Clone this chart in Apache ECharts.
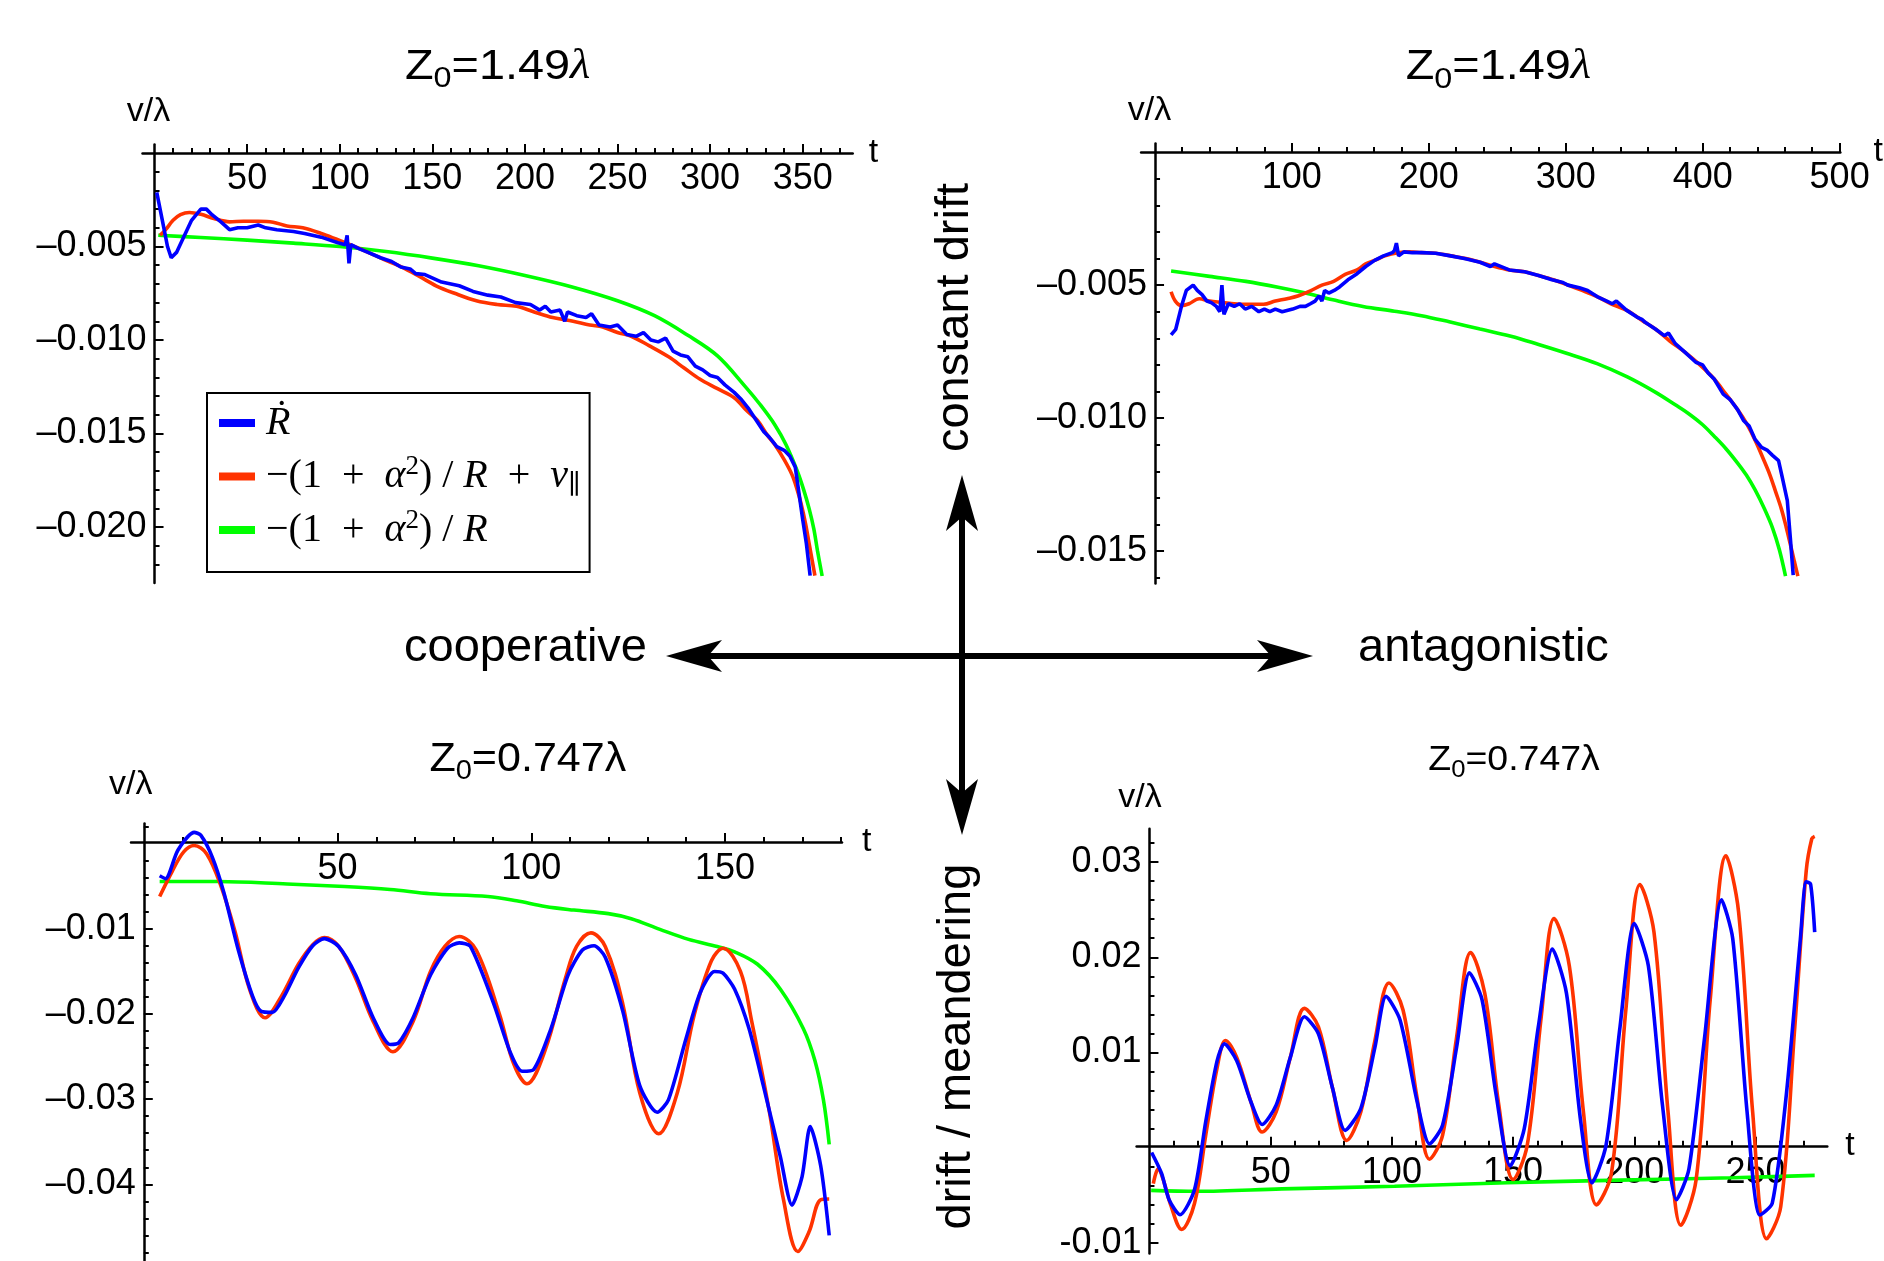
<!DOCTYPE html>
<html>
<head>
<meta charset="utf-8">
<title>drift velocity panels</title>
<script src="https://cdn.jsdelivr.net/npm/echarts@6/dist/echarts.min.js"></script>
<style>
  html, body { margin: 0; padding: 0; background: #fff; }
  #chart { width: 1884px; height: 1261px; }
</style>
</head>
<body>
<div id="chart"></div>
<script>
const SANS = '"Liberation Sans", Arial, Helvetica, sans-serif';
const SERIF = '"Liberation Serif", "DejaVu Serif", "Times New Roman", serif';
const BLUE = '#0000ff', RED = '#ff3300', GREEN = '#00ff00';
const NAME_B = 'Ṙ', NAME_R = '−(1+α²)/R+v∥', NAME_G = '−(1+α²)/R';

// ---- tick values ----
const p1XTicks = [50, 100, 150, 200, 250, 300, 350];
const p1YTicks = [-0.005, -0.010, -0.015, -0.020];
const p2XTicks = [100, 200, 300, 400, 500];
const p2YTicks = [-0.005, -0.010, -0.015];
const p3XTicks = [50, 100, 150];
const p3YTicks = [-0.01, -0.02, -0.03, -0.04];
const p4XTicks = [50, 100, 150, 200, 250];
const p4YTicks = [-0.01, 0.01, 0.02, 0.03];

// ---- panel 1 (top left), [t, v] ----
const p1Blue = [[1.2,-0.0021],[4,-0.0035],[7,-0.0050],[9,-0.0056],[12,-0.0053],[15.7,-0.0045],[20,-0.0036],[25,-0.0030],[28,-0.0030],[31,-0.0033],[36,-0.0037],[40.5,-0.0041],[45,-0.0040],[50,-0.0040],[56,-0.00385],[60,-0.0040],[66,-0.0041],[75,-0.0042],[81,-0.0043],[90,-0.0045],[99,-0.0048],[103,-0.0049],[104,-0.0044],[105,-0.0059],[106,-0.0049],[110,-0.0051],[115,-0.0053],[122,-0.0056],[128,-0.0058],[133,-0.0061],[138,-0.0062],[141,-0.00645],[146,-0.0065],[155,-0.0069],[164.5,-0.0071],[172,-0.0074],[180,-0.0076],[187,-0.0077],[195,-0.0080],[203,-0.0081],[208,-0.0084],[211,-0.0082],[214,-0.0085],[219,-0.0084],[221.5,-0.0090],[223,-0.0085],[228,-0.0087],[233,-0.0088],[236,-0.0086],[240,-0.0092],[246,-0.0093],[250,-0.0092],[255,-0.0097],[260,-0.0098],[264,-0.0096],[268,-0.0100],[272,-0.0101],[276,-0.0099],[280,-0.0106],[284,-0.0108],[288,-0.0109],[292,-0.0114],[296,-0.0116],[300,-0.0119],[304,-0.0120],[308,-0.0124],[313,-0.0128],[317,-0.0132],[321,-0.0137],[325,-0.0143],[329,-0.0149],[332,-0.0152],[336,-0.0157],[340,-0.0159],[343,-0.0162],[346,-0.0168],[348,-0.0182],[350,-0.0196],[352,-0.0209],[354,-0.0226]];
const p1Red = [[3,-0.0044],[6,-0.0041],[10,-0.0036],[14,-0.0033],[18.8,-0.00318],[25,-0.00328],[32,-0.0035],[40.5,-0.00368],[48,-0.00365],[56,-0.00365],[64,-0.0037],[71.5,-0.0039],[80,-0.0040],[90,-0.0043],[98,-0.0046],[105.6,-0.0049],[115,-0.0053],[124,-0.0057],[133.5,-0.0061],[143,-0.0066],[152,-0.0071],[162,-0.0075],[173.8,-0.0079],[185,-0.0081],[195.5,-0.0082],[205,-0.0085],[215,-0.0088],[226,-0.0090],[235,-0.0092],[242,-0.0093],[250,-0.0096],[257.4,-0.0098],[267,-0.0103],[277.6,-0.0109],[286,-0.0115],[294.6,-0.0121],[304,-0.0126],[313.2,-0.0131],[320,-0.0138],[325.6,-0.0143],[331,-0.0151],[335,-0.0156],[340,-0.0164],[344.2,-0.0172],[347,-0.0180],[349,-0.0187],[351.5,-0.0198],[353.5,-0.0209],[355.5,-0.0220],[356.6,-0.0226]];
const p1Green = [[2,-0.00440],[25,-0.00452],[50,-0.00466],[75,-0.00482],[100,-0.00500],[125,-0.00527],[150,-0.00562],[175,-0.00603],[200,-0.00655],[225,-0.00715],[250,-0.00790],[270,-0.00870],[288,-0.00975],[304,-0.01085],[319,-0.01249],[327,-0.01345],[335,-0.01454],[341,-0.01560],[347,-0.01699],[350.5,-0.01800],[353.5,-0.01903],[356,-0.02010],[358,-0.02128],[360.5,-0.02262]];

// ---- panel 2 (top right) ----
const p2Blue = [[11.9,-0.00687],[15.3,-0.00666],[19.5,-0.00579],[23,-0.0052],[28,-0.0050],[31,-0.0052],[34.5,-0.00536],[38,-0.0056],[41,-0.00565],[45,-0.0058],[47.5,-0.0060],[49,-0.0050],[50.5,-0.0061],[53.7,-0.0057],[58,-0.0058],[62,-0.0057],[66,-0.0059],[70.8,-0.0058],[76,-0.0060],[80,-0.0059],[84,-0.0060],[88,-0.0059],[93,-0.0060],[100.7,-0.0059],[106,-0.0058],[110,-0.0058],[113.6,-0.0057],[117,-0.0056],[120,-0.0054],[122,-0.0056],[124,-0.0052],[127,-0.0053],[131,-0.0052],[134.9,-0.00507],[141,-0.0048],[147.7,-0.00457],[154,-0.0043],[160.5,-0.00407],[167,-0.0039],[173.4,-0.00378],[175,-0.0037],[176.4,-0.00342],[178,-0.0039],[181.9,-0.00375],[188,-0.00378],[194.7,-0.00378],[205,-0.0038],[216,-0.0039],[226,-0.0040],[237.5,-0.00414],[245,-0.0043],[248,-0.0042],[258.8,-0.00443],[270,-0.0045],[280.2,-0.00464],[290,-0.0048],[298,-0.0049],[301.6,-0.0050],[310,-0.0051],[316,-0.0052],[322.9,-0.00543],[330,-0.0056],[334,-0.0057],[337,-0.0056],[344.3,-0.00594],[352,-0.0062],[356,-0.0063],[358,-0.0064],[365.7,-0.00666],[372,-0.0069],[375,-0.0068],[380,-0.0072],[387,-0.00752],[395,-0.0079],[400,-0.0080],[404,-0.0083],[408.4,-0.00853],[415,-0.0091],[420,-0.0093],[425.5,-0.00968],[430,-0.0101],[434,-0.0103],[438.3,-0.0108],[443,-0.0111],[447,-0.0112],[451,-0.0114],[455.4,-0.0116],[458,-0.0122],[461.8,-0.0131],[464,-0.0145],[466.1,-0.0159]];
const p2Red = [[11.9,-0.00525],[15,-0.0056],[19.5,-0.00577],[25,-0.0057],[32.4,-0.00551],[40,-0.0056],[49.5,-0.00565],[58,-0.0057],[66.5,-0.00572],[79.4,-0.00572],[88,-0.0056],[96.5,-0.00551],[105,-0.0054],[113.6,-0.00522],[122,-0.0050],[130.6,-0.00486],[139,-0.0046],[147.7,-0.00443],[154,-0.0042],[160.5,-0.00407],[168,-0.0039],[177.6,-0.00378],[186,-0.00375],[194.7,-0.00378],[205,-0.0038],[216.1,-0.0039],[227,-0.0040],[237.5,-0.00414],[248,-0.0043],[258.8,-0.00443],[270,-0.0045],[280.2,-0.00464],[291,-0.0048],[301.6,-0.0050],[312,-0.0052],[322.9,-0.00543],[333,-0.0057],[344.3,-0.00594],[355,-0.0063],[365.7,-0.00666],[376,-0.0071],[387,-0.00752],[398,-0.0080],[408.4,-0.00853],[417,-0.0091],[425.5,-0.00968],[432,-0.0102],[438.3,-0.01083],[444,-0.0115],[449,-0.01212],[453.5,-0.0128],[457.5,-0.01342],[461,-0.0141],[463.9,-0.01472],[467,-0.0154],[469.5,-0.01594]];
const p2Green = [[11.9,-0.00447],[40,-0.00467],[66.5,-0.00486],[90,-0.00508],[109.3,-0.00529],[130,-0.00555],[152,-0.0058],[175,-0.00598],[194.7,-0.00615],[215,-0.00638],[237.5,-0.00665],[260,-0.00692],[280.2,-0.00723],[300,-0.00755],[322.9,-0.00795],[345,-0.00845],[365.7,-0.00903],[380,-0.0095],[391.3,-0.00989],[400,-0.01025],[408.4,-0.01068],[417,-0.01115],[425.5,-0.01169],[432,-0.01215],[438.3,-0.0127],[445,-0.0134],[451.1,-0.01414],[456,-0.01495],[460.5,-0.01594]];

// ---- panel 3 (bottom left) ----
const p3Blue = [[4.1,-0.0038],[5.6,-0.00414],[8.8,-0.0008],[13,0.0013],[14.7,0.00097],[17.7,-0.00163],[20.7,-0.00582],[24.4,-0.01251],[28.1,-0.01795],[30.3,-0.01971],[33.2,-0.01983],[36.2,-0.01795],[39.9,-0.0146],[43.6,-0.012],[46.6,-0.01117],[50.3,-0.01209],[54.7,-0.01544],[59.2,-0.02046],[63.6,-0.0236],[65.8,-0.02339],[69.5,-0.02046],[74,-0.01544],[78.4,-0.0123],[81.4,-0.01167],[84.3,-0.01209],[90.3,-0.01879],[94.7,-0.02465],[97.7,-0.02674],[100.6,-0.02653],[105.1,-0.02172],[109.5,-0.01544],[113.2,-0.01251],[116.2,-0.012],[119.1,-0.01335],[123.6,-0.01963],[128,-0.02842],[132.5,-0.03155],[135.4,-0.03009],[139.9,-0.02297],[143.6,-0.01753],[147.3,-0.01502],[149.5,-0.01523],[152.5,-0.01711],[156.2,-0.02172],[159.9,-0.02842],[164.3,-0.03679],[167.3,-0.04244],[169.9,-0.03909],[172,-0.03323],[174.7,-0.03783],[176.9,-0.04599]];
const p3Red = [[4.1,-0.00624],[7.3,-0.0033],[10.3,-0.0010],[13,-0.00025],[16.2,-0.00121],[19.9,-0.00498],[23.6,-0.01042],[27.3,-0.01711],[31.3,-0.02046],[35.5,-0.01795],[39.9,-0.01418],[43.6,-0.01188],[46.6,-0.01105],[50.3,-0.01209],[54.7,-0.01586],[59.2,-0.02088],[64.3,-0.02444],[69.5,-0.02088],[74,-0.01502],[77.7,-0.01209],[81.4,-0.01092],[85.8,-0.01251],[91.8,-0.02004],[95.5,-0.0259],[98.9,-0.0282],[103.6,-0.02423],[108.8,-0.01586],[111.7,-0.01209],[115.4,-0.0105],[119.1,-0.01209],[123.6,-0.01879],[128,-0.02925],[132.9,-0.03406],[137.7,-0.02925],[142.1,-0.02004],[146.5,-0.01376],[149.5,-0.0123],[154,-0.01502],[156.9,-0.02088],[161.4,-0.03134],[165.1,-0.04181],[168.8,-0.04788],[171.7,-0.04557],[174.7,-0.04181],[176.9,-0.04172]];
const p3Green = [[4.1,-0.00447],[19.2,-0.00447],[37,-0.00477],[51.8,-0.00506],[63.6,-0.0054],[74,-0.0059],[88.8,-0.00623],[96.2,-0.00673],[103.6,-0.0074],[111,-0.00782],[119.9,-0.00824],[125.8,-0.00883],[133.2,-0.01008],[140.6,-0.01126],[148,-0.01209],[152.5,-0.01272],[158.4,-0.01418],[164.3,-0.01711],[170.2,-0.02171],[173.2,-0.02548],[175.4,-0.03008],[176.9,-0.03531]];

// ---- panel 4 (bottom right) ----
const p4Blue = [[0.9,-0.0005],[5,-0.0027],[8.1,-0.00546],[12.6,-0.00703],[18.6,-0.00439],[23.2,0.00272],[27.9,0.00913],[30.9,0.01091],[36,0.00913],[41.8,0.00486],[46.5,0.00244],[52.3,0.0045],[58.1,0.00948],[63.9,0.01375],[69.7,0.01197],[75.5,0.00628],[80.7,0.00183],[87.2,0.00415],[93,0.01055],[97.6,0.01589],[103.4,0.0134],[110.4,0.00486],[115.5,0.00041],[120.9,0.00236],[126.7,0.01055],[132,0.01838],[137.2,0.01553],[143,0.00557],[148.8,-0.0019],[154.6,0.00201],[160.4,0.01269],[166.2,0.02087],[172,0.01624],[177.9,0.00272],[182.5,-0.00368],[188.3,0.00023],[194.1,0.01269],[200,0.02354],[205.8,0.01909],[211.6,0.0045],[217.4,-0.00546],[222.5,-0.00226],[229,0.01161],[236,0.02603],[240.6,0.02194],[246.5,0.00379],[251.8,-0.00706],[256.9,-0.00582],[262.7,0.00557],[268.5,0.02194],[270.9,0.02792],[272.7,0.0277],[274.4,0.02265]];
const p4Red = [[1.6,-0.00376],[3.6,-0.0022],[6,-0.0036],[8.5,-0.0058],[13.3,-0.00858],[18.6,-0.00582],[23.2,0.0013],[27.9,0.0084],[31.4,0.01126],[36,0.00948],[41.8,0.00486],[46.5,0.00165],[52.3,0.00379],[58.1,0.00948],[63.9,0.01464],[69.7,0.01269],[75.5,0.00628],[81.4,0.00077],[87.2,0.00379],[93,0.01126],[98.8,0.0173],[104.6,0.01446],[110.4,0.00521],[115.5,-0.0012],[120.9,0.0013],[126.7,0.01161],[132.5,0.0205],[138.3,0.01623],[144.1,0.0045],[150,-0.00333],[155.8,0.00023],[161.6,0.01375],[166.9,0.02407],[173.2,0.01909],[179,0.00379],[184.4,-0.006],[190.6,-0.00262],[196.5,0.01446],[202.3,0.02763],[208.1,0.02265],[213.9,0.00379],[219.2,-0.00813],[225.5,-0.00333],[231.3,0.01553],[237.8,0.03065],[243,0.02478],[248.8,0.00379],[254.6,-0.00956],[260.4,-0.00618],[266.2,0.01269],[270.9,0.02906],[273.2,0.03244],[274.4,0.03269]];
const p4Green = [[0.7,-0.00447],[19.7,-0.00457],[54.6,-0.00432],[101.1,-0.00404],[147.6,-0.00368],[194.1,-0.0034],[240.6,-0.00315],[274.4,-0.0029]];

// panel layout: grid rect [left, top, width, height] in px, axis ranges
const panels = [
  { rect: [142.5, 144.6, 710.2, 438.5], x: [-6.5, 377], y: [-0.0230, 0.00045], xStep: 50, yStep: 0.005,
    xTicks: p1XTicks, yTicks: p1YTicks, xTop: true, dec: 3, minus: '\u2013', xMargin: 8, tGap: 16, vGap: 16, vPad: 12,
    blue: p1Blue, red: p1Red, green: p1Green, blueSmooth: false },
  { rect: [1141.1, 143.6, 711.6, 440], x: [-10, 500.5], y: [-0.01622, 0.00032], xStep: 100, yStep: 0.005,
    xTicks: p2XTicks, yTicks: p2YTicks, xTop: true, dec: 3, minus: '\u2013', xMargin: 8, tGap: 18, vGap: 16, vPad: 11,
    blue: p2Blue, red: p2Red, green: p2Green, blueSmooth: false },
  { rect: [131, 823.4, 711, 439], x: [-3.3, 180.2], y: [-0.0490, 0.00235], xStep: 50, yStep: 0.01,
    xTicks: p3XTicks, yTicks: p3YTicks, xTop: false, dec: 2, minus: '\u2013', xMargin: 9, tGap: 20, vGap: 22, vPad: 26,
    blue: p3Blue, red: p3Red, green: p3Green, blueSmooth: 0.25 },
  { rect: [1136.6, 828.7, 690.7, 432.4], x: [-5.3, 279.6], y: [-0.0111, 0.0335], xStep: 50, yStep: 0.01,
    xTicks: p4XTicks, yTicks: p4YTicks, xTop: false, dec: 2, minus: '-', xMargin: 9, tGap: 18, vGap: 14, vPad: 19,
    blue: p4Blue, red: p4Red, green: p4Green, blueSmooth: 0.25 }
];

const black = { color: '#000', width: 2 };

function xAxisFor(i, p) {
  const h = p.rect[3];
  const zeroFromBottom = h * (0 - p.y[0]) / (p.y[1] - p.y[0]);
  const offset = p.xTop ? -(h - zeroFromBottom) : -zeroFromBottom;
  return {
    type: 'value', gridIndex: i, min: p.x[0], max: p.x[1],
    minInterval: p.xStep, maxInterval: p.xStep,
    position: p.xTop ? 'top' : 'bottom', offset: offset,
    name: 't', nameLocation: 'end', nameGap: p.tGap,
    nameTextStyle: { fontFamily: SANS, fontSize: 34, color: '#000' },
    axisLine: { onZero: false, lineStyle: { color: '#000', width: 2.5 } },
    axisTick: { customValues: p.xTicks, inside: !p.xTop, length: 9, lineStyle: black },
    minorTick: { show: true, splitNumber: 5, length: 5, lineStyle: black },
    axisLabel: { customValues: p.xTicks, inside: p.xTop, margin: p.xMargin,
      fontFamily: SANS, fontSize: 36, color: '#000', formatter: v => String(Math.round(v)) },
    splitLine: { show: false }
  };
}

function yAxisFor(i, p) {
  const w = p.rect[2];
  const offset = -(w * (0 - p.x[0]) / (p.x[1] - p.x[0]));
  return {
    type: 'value', gridIndex: i, min: p.y[0], max: p.y[1],
    minInterval: p.yStep, maxInterval: p.yStep,
    position: 'left', offset: offset,
    name: 'v/λ', nameLocation: 'end', nameGap: p.vGap,
    nameTextStyle: { fontFamily: SANS, fontSize: 34, color: '#000', padding: [0, p.vPad, 0, 0] },
    axisLine: { onZero: false, lineStyle: { color: '#000', width: 2.5 } },
    axisTick: { customValues: p.yTicks, inside: true, length: 9, lineStyle: black },
    minorTick: { show: true, splitNumber: 5, length: 5, lineStyle: black },
    axisLabel: { customValues: p.yTicks, margin: 8, fontFamily: SANS, fontSize: 36, color: '#000',
      formatter: v => v.toFixed(p.dec).replace('-', p.minus) },
    splitLine: { show: false }
  };
}

function line(name, data, color, i, smooth) {
  return {
    type: 'line', name: name, data: data, xAxisIndex: i, yAxisIndex: i,
    showSymbol: false, symbol: 'none', smooth: smooth,
    lineStyle: { color: color, width: 3.6 }, itemStyle: { color: color },
    emphasis: { disabled: true }
  };
}

const series = [];
panels.forEach((p, i) => {
  series.push(line(NAME_G, p.green, GREEN, i, 0.35));
  series.push(line(NAME_R, p.red, RED, i, 0.35));
  series.push(line(NAME_B, p.blue, BLUE, i, p.blueSmooth));
});

function title(left, baseline, size, sx, value, serifLambda) {
  const sub = Math.round(size * 0.68);
  return {
    type: 'text', x: left, y: baseline - 0.81 * size, scaleX: sx, originX: 0, originY: 0,
    style: {
      text: '{z|Z}{s|0}{z|=' + value + '}' + (serifLambda ? '{l|λ}' : '{z|λ}'),
      align: 'left', verticalAlign: 'top', textAlign: 'left', textVerticalAlign: 'top',
      fill: '#000',
      rich: {
        z: { fontFamily: SANS, fontSize: size, lineHeight: size, verticalAlign: 'top', fill: '#000' },
        s: { fontFamily: SANS, fontSize: sub, lineHeight: sub, verticalAlign: 'top', padding: [Math.round(size * 0.46), 0, 0, 0], fill: '#000' },
        l: { fontFamily: SERIF, fontStyle: 'italic', fontSize: size, lineHeight: size, verticalAlign: 'top', fill: '#000' }
      }
    }
  };
}

function label(text, x, y, align, rotation) {
  return {
    type: 'text', x: x, y: y, rotation: rotation || 0,
    style: { text: text, fontFamily: SANS, fontSize: 47, fill: '#000',
      align: align, verticalAlign: 'middle', textAlign: align, textVerticalAlign: 'middle' }
  };
}

const arrowStyle = { fill: '#000' };
const graphic = [
  title(405, 80, 42, 1.115, '1.49', true),
  title(1405.7, 80.4, 42, 1.115, '1.49', true),
  title(429.4, 772.6, 40, 1.076, '0.747', false),
  title(1428.3, 770.7, 35, 1.07, '0.747', false),
  label('cooperative', 647, 648, 'right'),
  label('antagonistic', 1358, 648, 'left'),
  label('constant drift', 955, 317.5, 'center', Math.PI / 2),
  label('drift / meandering', 957, 1046.6, 'center', Math.PI / 2),
  { type: 'line', shape: { x1: 708, y1: 656, x2: 1271, y2: 656 }, style: { stroke: '#000', lineWidth: 6 } },
  { type: 'polygon', shape: { points: [[666, 656], [722, 640], [708, 656], [722, 672]] }, style: arrowStyle },
  { type: 'polygon', shape: { points: [[1313, 656], [1257, 640], [1271, 656], [1257, 672]] }, style: arrowStyle },
  { type: 'line', shape: { x1: 962, y1: 517, x2: 962, y2: 793 }, style: { stroke: '#000', lineWidth: 6 } },
  { type: 'polygon', shape: { points: [[962, 475], [946, 531], [962, 517], [978, 531]] }, style: arrowStyle },
  { type: 'polygon', shape: { points: [[962, 835], [946, 779], [962, 793], [978, 779]] }, style: arrowStyle }
];

// en spaces around "+" to match the wider operator spacing of the original
const legendText = {};
legendText[NAME_B] = '{i|Ṙ}';
legendText[NAME_R] = '{u|−(1\u2002+\u2002}{i|α}{sup|2}{u|) / }{i|R}{u|\u2002+\u2002}{i|v}{sub|∥}';
legendText[NAME_G] = '{u|−(1\u2002+\u2002}{i|α}{sup|2}{u|) / }{i|R}';

const option = {
  animation: false,
  backgroundColor: '#fff',
  grid: panels.map(p => ({ left: p.rect[0], top: p.rect[1], width: p.rect[2], height: p.rect[3], containLabel: false })),
  xAxis: panels.map((p, i) => xAxisFor(i, p)),
  yAxis: panels.map((p, i) => yAxisFor(i, p)),
  legend: {
    left: 207, top: 393, orient: 'vertical', selectedMode: false,
    data: [NAME_B, NAME_R, NAME_G],
    icon: 'rect', itemWidth: 36, itemHeight: 8, itemGap: 7.5,
    padding: [7, 9, 19, 12], borderColor: '#000', borderWidth: 2, backgroundColor: '#fff',
    formatter: name => legendText[name],
    textStyle: {
      fontFamily: SERIF, fontSize: 40, color: '#000', lineHeight: 46, padding: [0, 0, 0, 6],
      rich: {
        u: { fontFamily: SERIF, fontSize: 40, lineHeight: 46, color: '#000' },
        i: { fontFamily: SERIF, fontStyle: 'italic', fontSize: 40, lineHeight: 46, color: '#000' },
        sup: { fontFamily: SERIF, fontSize: 27, lineHeight: 18, verticalAlign: 'top', color: '#000' },
        sub: { fontFamily: SERIF, fontSize: 27, lineHeight: 18, verticalAlign: 'bottom', color: '#000' }
      }
    }
  },
  graphic: graphic,
  series: series
};

const chart = echarts.init(document.getElementById('chart'), null, { renderer: 'canvas' });
chart.setOption(option);
</script>
</body>
</html>
